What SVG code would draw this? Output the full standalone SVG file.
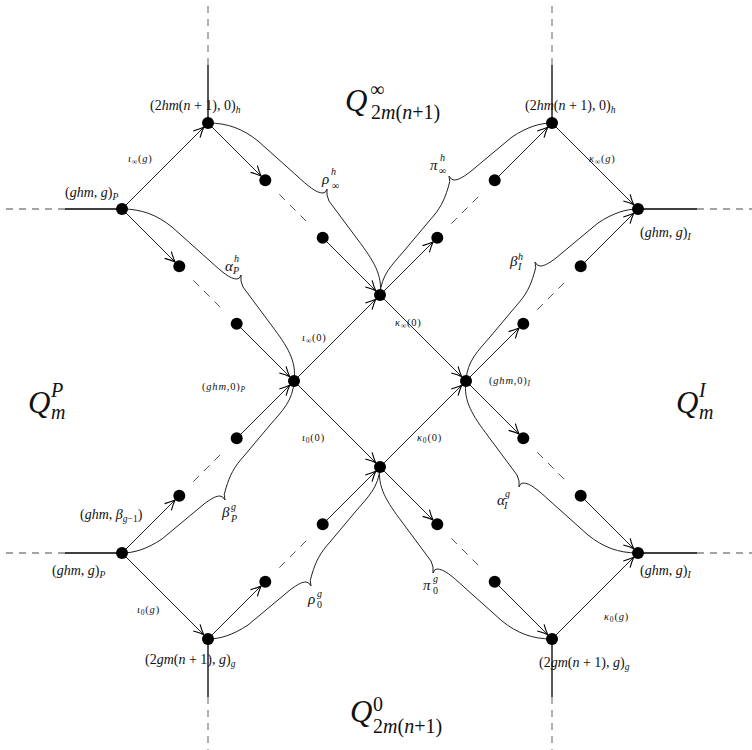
<svg xmlns="http://www.w3.org/2000/svg" width="752" height="750" viewBox="0 0 752 750">
<style>
.ln{stroke:#222;stroke-width:1;fill:none}
.br{stroke:#222;stroke-width:1;fill:none}
.dm{stroke:#555;stroke-width:1;stroke-dasharray:8 7;fill:none}
.st{stroke:#000;stroke-width:1.3;fill:none}
.sd{stroke:#888;stroke-width:1.3;stroke-dasharray:7 6;fill:none}
.nd{fill:#000}
text{font-family:"Liberation Serif","Times New Roman",serif;font-style:italic;fill:#111}
.r{font-style:normal}
.n{font-size:14px}
.s{font-size:9.5px}
.e{font-size:10.5px;letter-spacing:0.8px}
.es{font-size:7.5px}
.b{font-size:15px}
.bs{font-size:10px}
.q{font-size:31px}
.qs{font-size:20px}
</style>
<defs>
<marker id="ah" viewBox="-12 -6 20 12" markerWidth="20" markerHeight="12" refX="6" refY="0" markerUnits="userSpaceOnUse" orient="auto" overflow="visible">
<path d="M-10,-4.8 Q-4,-1.4 0,0 Q-4,1.4 -10,4.8" fill="none" stroke="#000" stroke-width="1.1"/>
</marker>
<path id="braceA" d="M0,0 C20,0 35,6 50,18 L88,52 C100,63 108,70 115,70 Q118,70 119,66 M119,66 Q118,72 121,78 L150,117 C165,137 175,152 172,172"/>
<path id="braceB" d="M0,0 C12,0 25,4 40,14 L82,49 C90,55 94,57 98,57 Q101,57 103,53 M103,53 Q101,58 104,65 C108,78 112,86 122,97 L148,128 C160,142 171,152 172,172"/>
</defs>
<rect width="752" height="750" fill="#fff"/>

<g id="connectors">
<path class="st" d="M208,123 V65 M552,123 V65 M208,639 V697 M552,639 V697 M122,209 H65 M122,553 H65 M638,209 H697 M638,553 H697"/>
<path class="sd" d="M208,65 V0 M552,65 V0 M208,697 V750 M552,697 V750 M65,209 H0 M65,553 H0 M697,209 H752 M697,553 H752"/>
<g class="ln" marker-end="url(#ah)">
<path d="M122,209 L208,123"/>
<path d="M552,123 L638,209"/>
<path d="M122,553 L208,639"/>
<path d="M552,639 L638,553"/>
<path d="M294,381 L380,295"/>
<path d="M380,295 L466,381"/>
<path d="M294,381 L380,467"/>
<path d="M380,467 L466,381"/>
<path d="M208,123 L265.3,180.3"/>
<path d="M322.7,237.7 L380,295"/>
<path d="M122,209 L179.3,266.3"/>
<path d="M236.7,323.7 L294,381"/>
<path d="M380,295 L437.3,237.7"/>
<path d="M494.7,180.3 L552,123"/>
<path d="M466,381 L523.3,323.7"/>
<path d="M580.7,266.3 L638,209"/>
<path d="M122,553 L179.3,495.7"/>
<path d="M236.7,438.3 L294,381"/>
<path d="M208,639 L265.3,581.7"/>
<path d="M322.7,524.3 L380,467"/>
<path d="M380,467 L437.3,524.3"/>
<path d="M494.7,581.7 L552,639"/>
<path d="M466,381 L523.3,438.3"/>
<path d="M580.7,495.7 L638,553"/>
</g>
<path class="dm" d="M279.3,194.3 L308.7,223.7 M193.3,280.3 L222.7,309.7 M451.3,223.7 L480.7,194.3 M537.3,309.7 L566.7,280.3 M193.3,481.7 L222.7,452.3 M279.3,567.7 L308.7,538.3 M451.3,538.3 L480.7,567.7 M537.3,452.3 L566.7,481.7"/>
<use class="br" href="#braceA" transform="translate(208,123)"/>
<use class="br" href="#braceA" transform="translate(122,209)"/>
<use class="br" href="#braceA" transform="translate(552,639) scale(-1,-1)"/>
<use class="br" href="#braceA" transform="translate(638,553) scale(-1,-1)"/>
<use class="br" href="#braceB" transform="translate(552,123) scale(-1,1)"/>
<use class="br" href="#braceB" transform="translate(638,209) scale(-1,1)"/>
<use class="br" href="#braceB" transform="translate(122,553) scale(1,-1)"/>
<use class="br" href="#braceB" transform="translate(208,639) scale(1,-1)"/>
</g>

<g id="nA"><circle class="nd" cx="208" cy="123" r="6"/><text class="n" x="150" y="110"><tspan class="r">(2</tspan>hm<tspan class="r">(</tspan>n<tspan class="r"> + 1), 0)</tspan><tspan class="s" dy="3">h</tspan></text></g>
<g id="nG"><circle class="nd" cx="552" cy="123" r="6"/><text class="n" x="525" y="110"><tspan class="r">(2</tspan>hm<tspan class="r">(</tspan>n<tspan class="r"> + 1), 0)</tspan><tspan class="s" dy="3">h</tspan></text></g>
<g id="nB"><circle class="nd" cx="122" cy="209" r="6"/><text class="n" x="65" y="197"><tspan class="r">(</tspan>ghm<tspan class="r">, </tspan>g<tspan class="r">)</tspan><tspan class="s" dy="3">P</tspan></text></g>
<g id="nH"><circle class="nd" cx="638" cy="209" r="6"/><text class="n" x="640" y="237"><tspan class="r">(</tspan>ghm<tspan class="r">, </tspan>g<tspan class="r">)</tspan><tspan class="s" dy="3">I</tspan></text></g>
<g id="nC"><circle class="nd" cx="294" cy="381" r="6"/><text class="e" x="202" y="390"><tspan class="r">(</tspan>ghm<tspan class="r">,0)</tspan><tspan class="es" dy="2">P</tspan></text></g>
<g id="nD"><circle class="nd" cx="380" cy="295" r="6"/></g>
<g id="nE"><circle class="nd" cx="466" cy="381" r="6"/><text class="e" x="489" y="384"><tspan class="r">(</tspan>ghm<tspan class="r">,0)</tspan><tspan class="es" dy="2">I</tspan></text></g>
<g id="nF"><circle class="nd" cx="380" cy="467" r="6"/></g>
<g id="nI"><circle class="nd" cx="122" cy="553" r="6"/><text class="n" x="52" y="575"><tspan class="r">(</tspan>ghm<tspan class="r">, </tspan>g<tspan class="r">)</tspan><tspan class="s" dy="3">P</tspan></text><text class="n" x="80" y="519"><tspan class="r">(</tspan>ghm<tspan class="r">, </tspan>β<tspan class="s" dy="3">g</tspan><tspan class="s r">−1</tspan><tspan class="r" dy="-3">)</tspan></text></g>
<g id="nK"><circle class="nd" cx="638" cy="553" r="6"/><text class="n" x="640" y="575"><tspan class="r">(</tspan>ghm<tspan class="r">, </tspan>g<tspan class="r">)</tspan><tspan class="s" dy="3">I</tspan></text></g>
<g id="nJ"><circle class="nd" cx="208" cy="639" r="6"/><text class="n" x="145" y="664"><tspan class="r">(2</tspan>gm<tspan class="r">(</tspan>n<tspan class="r"> + 1), </tspan>g<tspan class="r">)</tspan><tspan class="s" dy="3">g</tspan></text></g>
<g id="nL"><circle class="nd" cx="552" cy="639" r="6"/><text class="n" x="539" y="667"><tspan class="r">(2</tspan>gm<tspan class="r">(</tspan>n<tspan class="r"> + 1), </tspan>g<tspan class="r">)</tspan><tspan class="s" dy="3">g</tspan></text></g>

<g id="s1"><circle class="nd" cx="265.3" cy="180.3" r="6"/></g>
<g id="s2"><circle class="nd" cx="322.7" cy="237.7" r="6"/></g>
<g id="s3"><circle class="nd" cx="179.3" cy="266.3" r="6"/></g>
<g id="s4"><circle class="nd" cx="236.7" cy="323.7" r="6"/></g>
<g id="s5"><circle class="nd" cx="437.3" cy="237.7" r="6"/></g>
<g id="s6"><circle class="nd" cx="494.7" cy="180.3" r="6"/></g>
<g id="s7"><circle class="nd" cx="523.3" cy="323.7" r="6"/></g>
<g id="s8"><circle class="nd" cx="580.7" cy="266.3" r="6"/></g>
<g id="s9"><circle class="nd" cx="179.3" cy="495.7" r="6"/></g>
<g id="s10"><circle class="nd" cx="236.7" cy="438.3" r="6"/></g>
<g id="s11"><circle class="nd" cx="265.3" cy="581.7" r="6"/></g>
<g id="s12"><circle class="nd" cx="322.7" cy="524.3" r="6"/></g>
<g id="s13"><circle class="nd" cx="437.3" cy="524.3" r="6"/></g>
<g id="s14"><circle class="nd" cx="494.7" cy="581.7" r="6"/></g>
<g id="s15"><circle class="nd" cx="523.3" cy="438.3" r="6"/></g>
<g id="s16"><circle class="nd" cx="580.7" cy="495.7" r="6"/></g>

<g id="edge-labels">
<text class="e" x="128" y="162">ι<tspan class="es" dy="2">∞</tspan><tspan class="r" dy="-2">(</tspan>g<tspan class="r">)</tspan></text>
<text class="e" x="589" y="162">κ<tspan class="es" dy="2">∞</tspan><tspan class="r" dy="-2">(</tspan>g<tspan class="r">)</tspan></text>
<text class="e" x="302" y="341">ι<tspan class="es" dy="2">∞</tspan><tspan class="r" dy="-2">(0)</tspan></text>
<text class="e" x="395" y="326">κ<tspan class="es" dy="2">∞</tspan><tspan class="r" dy="-2">(0)</tspan></text>
<text class="e" x="302" y="441">ι<tspan class="es r" dy="2">0</tspan><tspan class="r" dy="-2">(0)</tspan></text>
<text class="e" x="417" y="441">κ<tspan class="es r" dy="2">0</tspan><tspan class="r" dy="-2">(0)</tspan></text>
<text class="e" x="137" y="613">ι<tspan class="es r" dy="2">0</tspan><tspan class="r" dy="-2">(</tspan>g<tspan class="r">)</tspan></text>
<text class="e" x="604" y="620">κ<tspan class="es r" dy="2">0</tspan><tspan class="r" dy="-2">(</tspan>g<tspan class="r">)</tspan></text>
</g>

<g id="brace-labels">
<text class="b" x="322" y="184">ρ</text><text class="bs" x="331" y="175">h</text><text class="bs" x="332" y="189">∞</text>
<text class="b" x="430" y="170">π</text><text class="bs" x="440" y="161">h</text><text class="bs" x="439" y="174">∞</text>
<text class="b" x="225" y="271">α</text><text class="bs" x="234" y="262">h</text><text class="bs" x="233" y="274">P</text>
<text class="b" x="510" y="266">β</text><text class="bs" x="518" y="260">h</text><text class="bs" x="518" y="270">I</text>
<text class="b" x="222" y="517">β</text><text class="bs" x="231" y="510">g</text><text class="bs" x="231" y="522">P</text>
<text class="b" x="308" y="604">ρ</text><text class="bs" x="317" y="597">g</text><text class="bs r" x="317" y="608">0</text>
<text class="b" x="423" y="590">π</text><text class="bs" x="433" y="582">g</text><text class="bs r" x="433" y="594">0</text>
<text class="b" x="497" y="505">α</text><text class="bs" x="505" y="497">g</text><text class="bs" x="504" y="509">I</text>
</g>

<g id="regions">
<text class="q" x="345" y="111">Q</text><text class="qs r" x="370" y="96">∞</text><text class="qs" x="371" y="119"><tspan class="r">2</tspan>m<tspan class="r">(</tspan>n<tspan class="r">+1)</tspan></text>
<text class="q" x="28" y="413">Q</text><text class="qs" x="51" y="397">P</text><text class="qs" x="51" y="419">m</text>
<text class="q" x="676" y="413">Q</text><text class="qs" x="699" y="397">I</text><text class="qs" x="699" y="419">m</text>
<text class="q" x="350" y="722">Q</text><text class="qs r" x="373" y="711">0</text><text class="qs" x="373" y="733"><tspan class="r">2</tspan>m<tspan class="r">(</tspan>n<tspan class="r">+1)</tspan></text>
</g>
</svg>
